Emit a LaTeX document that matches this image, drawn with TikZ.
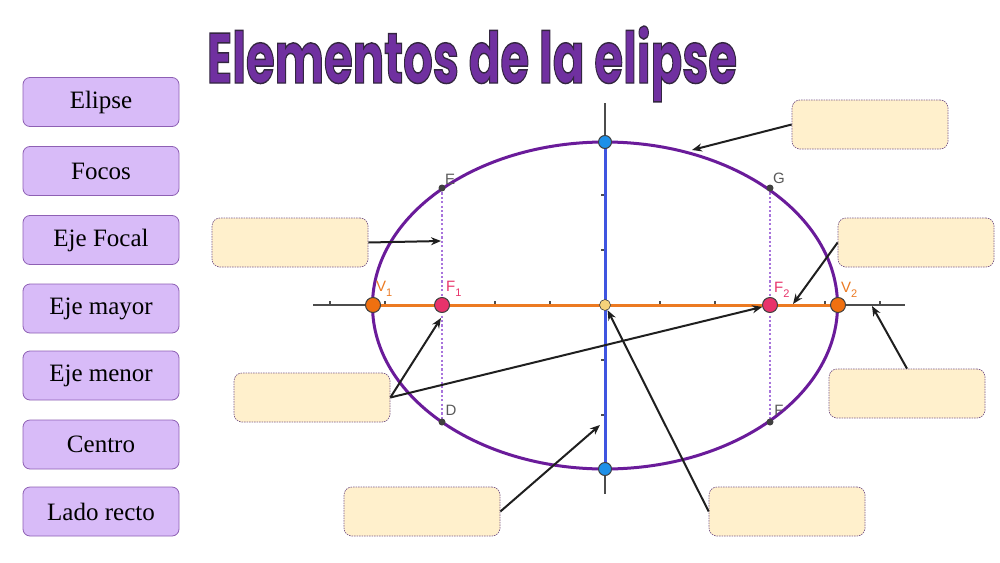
\documentclass[tikz,border=0pt]{standalone}
\usepackage{fontspec}
\setmainfont{Liberation Serif}
\newfontfamily\labfont{Liberation Sans}
\newfontfamily\titlefont{Poppins}
\usetikzlibrary{arrows.meta}
\definecolor{termfill}{HTML}{D8BBF8}
\definecolor{termborder}{HTML}{8E60B4}
\definecolor{ansfill}{HTML}{FFF0CC}
\definecolor{ansborder}{HTML}{7A5A8A}
\definecolor{ellcol}{HTML}{6A1B9A}
\definecolor{orangeax}{HTML}{EC7A22}
\definecolor{orangept}{HTML}{F07010}
\definecolor{blueax}{HTML}{3F55E0}
\definecolor{bluept}{HTML}{1E90E8}
\definecolor{pinkpt}{HTML}{E8336B}
\definecolor{latuscol}{HTML}{A874DC}
\definecolor{titlecol}{HTML}{7030A0}
\definecolor{centerpt}{HTML}{F6D27A}
\newcommand{\outlinedtext}[1]{\special{pdf:literal direct 2 Tr 0.9 w 0.2 0.15 0.25 RG}#1\special{pdf:literal direct 0 Tr}}
\begin{document}
\begin{tikzpicture}[x=1pt,y=-1pt,
  term/.style={draw=termborder, fill=termfill, rounded corners=7pt, minimum width=156pt, minimum height=49pt, inner sep=0pt, line width=0.8pt, font=\fontsize{25}{29}\selectfont},
  ans/.style={draw=ansborder, dash pattern=on 1.5pt off 1pt, fill=ansfill, rounded corners=8pt, minimum width=156pt, minimum height=49pt, inner sep=0pt, line width=0.7pt},
  arr/.style={-{Stealth[length=10pt,width=8pt]}, line width=2pt, black!88},
  axis/.style={line width=1.4pt, black!70},
  tick/.style={line width=1.2pt, black!70},
  latus/.style={dash pattern=on 2.2pt off 2.2pt, line width=2.6pt, latuscol},
  bigpt/.style={circle, draw=black!75, line width=1pt, minimum size=15pt, inner sep=0pt},
  smallpt/.style={circle, fill=black!75, minimum size=7pt, inner sep=0pt},
  lab/.style={font=\labfont\fontsize{15}{15}\selectfont, inner sep=0pt}
]
\useasboundingbox (0,0) rectangle (1000,562);
\fill[white] (0,0) rectangle (1000,562);

% title
\node[text=titlecol, anchor=base, inner sep=0pt] (title) at (472,83) {\resizebox{530pt}{57pt}{\titlefont\fontsize{44}{50}\selectfont\bfseries\outlinedtext{Elementos de la elipse}}};

% term boxes
\node[term] (t1) at (101,102) {Elipse};
\node[term] (t2) at (101,171) {Focos};
\node[term] (t3) at (101,240) {Eje Focal};
\node[term] (t4) at (101,308.5) {Eje mayor};
\node[term] (t5) at (101,375.5) {Eje menor};
\node[term] (t6) at (101,444.5) {Centro};
\node[term] (t7) at (101,511.5) {Lado recto};

% axes
\draw[axis] (313,305) -- (905,305);
\draw[axis] (605,103) -- (605,494);
\foreach \x in {330,385,440,495,550,660,715,770,825,880} \draw[tick] (\x,301) -- (\x,305);
\foreach \y in {140,195,250,360,415,470} \draw[tick] (601,\y) -- (605,\y);

% latus rectum
\draw[latus] (442,188) -- (442,422);
\draw[latus] (770,188) -- (770,422);

% major / minor axis
\draw[orangeax, line width=3pt] (373,305) -- (838,305);
\draw[blueax, line width=3pt] (605,142) -- (605,469);

% ellipse
\draw[ellcol, line width=3pt] (605,305.5) ellipse [x radius=232.5, y radius=163.5];

% points
\node[bigpt, fill=orangept] (V1) at (373,305) {};
\node[bigpt, fill=orangept] (V2) at (838,305) {};
\node[bigpt, fill=pinkpt] (F1) at (442,305) {};
\node[bigpt, fill=pinkpt] (F2) at (770,305) {};
\node[bigpt, fill=bluept, minimum size=13pt] (B1) at (605,142) {};
\node[bigpt, fill=bluept, minimum size=13pt] (B2) at (605,469) {};
\node[bigpt, fill=centerpt, minimum size=11pt, line width=0.6pt] (C) at (605,305) {};
\node[smallpt] (E) at (442,188) {};
\node[smallpt] (G) at (770,188) {};
\node[smallpt] (D) at (442,422) {};
\node[smallpt] (Fp) at (770,422) {};

% labels
\node[lab, text=black!65] (lE) at (450,179) {E};
\node[lab, text=black!65] (lG) at (779,178) {G};
\node[lab, text=black!65] (lD) at (451,410) {D};
\node[lab, text=black!65] (lF) at (779,410) {F};
\node[lab, text=orangeax, anchor=west] (lV1) at (376,289) {V\raisebox{-5pt}{\fontsize{11}{11}\selectfont 1}};
\node[lab, text=pinkpt, anchor=west] (lF1) at (446,289) {F\raisebox{-5pt}{\fontsize{11}{11}\selectfont 1}};
\node[lab, text=pinkpt, anchor=west] (lF2) at (774,290) {F\raisebox{-5pt}{\fontsize{11}{11}\selectfont 2}};
\node[lab, text=orangeax, anchor=west] (lV2) at (841,290) {V\raisebox{-5pt}{\fontsize{11}{11}\selectfont 2}};

% answer boxes
\node[ans] (a1) at (870,124.5) {};
\node[ans] (a2) at (290,242.5) {};
\node[ans] (a3) at (916,242.5) {};
\node[ans] (a4) at (312,397.5) {};
\node[ans] (a5) at (907,393.5) {};
\node[ans] (a6) at (422,511.5) {};
\node[ans] (a7) at (787,511.5) {};

% arrow targets
\coordinate (ellpt) at (692,150);
\coordinate (latpt) at (441,241);
\coordinate (majpt) at (793,304);
\coordinate (f1pt) at (441,318);
\coordinate (focpt) at (872,306);
\coordinate (minpt) at (600,425);

% arrows
\draw[arr] (a1.west) -- (ellpt);
\draw[arr] (a2.east) -- (latpt);
\draw[arr] (a3.west) -- (majpt);
\draw[arr] (a4.east) -- (f1pt);
\draw[arr] (a4.east) -- (F2);
\draw[arr] (a5.north) -- (focpt);
\draw[arr] (a6.east) -- (minpt);
\draw[arr] (a7.west) -- (C);
\end{tikzpicture}
\end{document}
